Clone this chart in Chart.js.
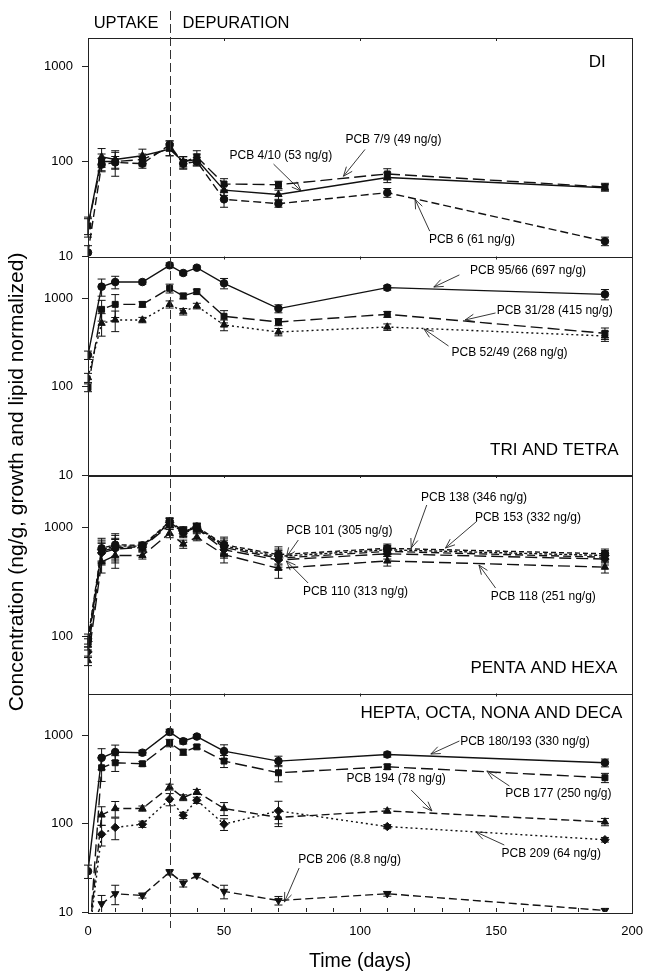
<!DOCTYPE html>
<html><head><meta charset="utf-8">
<script src="https://cdn.jsdelivr.net/npm/chart.js@4.4.0/dist/chart.umd.min.js"></script>
<style>html,body{margin:0;padding:0;background:#fff;}canvas{display:block;}</style>
</head><body>
<canvas id="c" width="655" height="971"></canvas>
<script>
// ---------- DATA ----------
const days = [0, 5, 10, 20, 30, 35, 40, 50, 70, 110, 190];
const yTickValues = [10, 100, 1000];
const xTickStep = 50;

// Panel 1: DI
const pcb4_10 = [21, 112, 105, 115, 135, 100, 105, 50, 45, 68, 53];
const pcb4_10Err = [5, 25, 20, 20, 20, 12, 15, 6, 5, 8, 4];
const pcb7_9 = [21, 100, 100, 105, 140, 98, 112, 58, 57, 74, 54];
const pcb7_9Err = [4, 20, 30, 15, 25, 15, 18, 8, 5, 10, 5];
const pcb6 = [11, 93, 98, 95, 150, 95, 100, 40, 36, 47, 14.5];
const pcb6Err = [2, 15, 15, 10, 15, 10, 10, 7, 3, 5, 1.5];

// Panel 2: TRI AND TETRA
const pcb95_66 = [229, 1365, 1540, 1540, 2385, 1950, 2240, 1490, 770, 1330, 1117];
const pcb95_66Err = [25, 300, 250, 80, 150, 100, 100, 200, 80, 80, 150];
const pcb31_28 = [98, 755, 860, 860, 1307, 1071, 1199, 630, 543, 663, 404];
const pcb31_28Err = [10, 200, 250, 60, 150, 80, 80, 100, 50, 50, 60];
const pcb52_49 = [127, 525, 572, 572, 861, 711, 824, 502, 418, 476, 377];
const pcb52_49Err = [15, 150, 150, 40, 80, 60, 60, 70, 40, 40, 50];

// Panel 3: PENTA AND HEXA
const pcb138 = [95, 640, 690, 680, 1120, 930, 1010, 690, 560, 640, 570];
const pcb138Err = [10, 150, 150, 50, 100, 80, 80, 120, 100, 60, 60];
const pcb153 = [90, 620, 670, 670, 1100, 910, 1000, 670, 540, 620, 550];
const pcb153Err = [10, 140, 200, 50, 100, 80, 80, 110, 90, 60, 60];
const pcb101 = [85, 600, 650, 660, 1090, 900, 990, 650, 520, 600, 530];
const pcb101Err = [10, 130, 140, 50, 100, 80, 80, 100, 90, 60, 60];
const pcb110 = [72, 580, 630, 650, 1050, 880, 970, 620, 500, 570, 510];
const pcb110Err = [8, 130, 140, 50, 100, 80, 80, 100, 90, 60, 60];
const pcb118 = [60, 480, 550, 550, 880, 700, 810, 560, 420, 490, 430];
const pcb118Err = [6, 100, 130, 40, 80, 60, 60, 90, 80, 50, 50];

// Panel 4: HEPTA, OCTA, NONA AND DECA
const pcb180_193 = [29, 560, 650, 640, 1100, 863, 975, 666, 514, 610, 492];
const pcb180_193Err = [5, 150, 130, 40, 80, 60, 50, 120, 70, 40, 50];
const pcb177 = [3, 432, 492, 479, 826, 649, 745, 514, 379, 443, 333];
const pcb177Err = [0, 130, 100, 30, 80, 50, 40, 80, 80, 30, 40];
const pcb194 = [4, 126, 149, 149, 261, 198, 230, 149, 118, 140, 105];
const pcb194Err = [0, 30, 30, 10, 20, 15, 15, 25, 25, 8, 10];
const pcb209 = [4, 76, 91, 99, 190, 125, 185, 99, 140, 93, 66];
const pcb209Err = [0, 20, 25, 8, 30, 10, 15, 15, 40, 5, 4];
const pcb206 = [5, 12.4, 16.1, 15.4, 28.3, 21.2, 25.9, 17.1, 13.5, 16.1, 10.4];
const pcb206Err = [0, 3, 4, 1, 2, 2, 1.5, 3, 1.5, 1, 0.5];

// ---------- CHART ----------
Chart.defaults.font.family = '"Liberation Sans", Arial, Helvetica, sans-serif';
Chart.defaults.color = '#000';

const INK = '#111';
const SOLID = [], LONG = [12, 5], MED = [8, 4], SHORT = [5, 3], DOT = [2, 3];

function series(label, values, errs, axis, dash, style, rot) {
  return {
    label, yAxisID: axis, errs,
    data: days.map((d, i) => ({x: d, y: values[i]})),
    borderColor: INK, backgroundColor: INK, borderWidth: 1.4, borderDash: dash,
    pointStyle: style, pointRotation: rot || 0,
    pointRadius: style === 'circle' ? 3.8 : 4.2, pointBorderWidth: 1,
    pointBorderColor: INK, pointBackgroundColor: INK, tension: 0, fill: false
  };
}

const datasets = [
  series('PCB 4/10', pcb4_10, pcb4_10Err, 'y1', SOLID, 'triangle'),
  series('PCB 7/9', pcb7_9, pcb7_9Err, 'y1', LONG, 'rect'),
  series('PCB 6', pcb6, pcb6Err, 'y1', MED, 'circle'),
  series('PCB 95/66', pcb95_66, pcb95_66Err, 'y2', SOLID, 'circle'),
  series('PCB 31/28', pcb31_28, pcb31_28Err, 'y2', LONG, 'rect'),
  series('PCB 52/49', pcb52_49, pcb52_49Err, 'y2', DOT, 'triangle'),
  series('PCB 138', pcb138, pcb138Err, 'y3', SHORT, 'circle'),
  series('PCB 153', pcb153, pcb153Err, 'y3', [3, 2], 'rectRot'),
  series('PCB 101', pcb101, pcb101Err, 'y3', MED, 'rect'),
  series('PCB 110', pcb110, pcb110Err, 'y3', LONG, 'rectRot'),
  series('PCB 118', pcb118, pcb118Err, 'y3', LONG, 'triangle'),
  series('PCB 180/193', pcb180_193, pcb180_193Err, 'y4', SOLID, 'circle'),
  series('PCB 177', pcb177, pcb177Err, 'y4', LONG, 'rect'),
  series('PCB 194', pcb194, pcb194Err, 'y4', MED, 'triangle'),
  series('PCB 209', pcb209, pcb209Err, 'y4', DOT, 'rectRot'),
  series('PCB 206', pcb206, pcb206Err, 'y4', MED, 'triangle', 180)
];

// annotations: [axis, text, textDay, textValue, fromDay, fromValue, toDay, toValue]
const labels = [
  ['y1', 'PCB 4/10 (53 ng/g)', 52, 116, 68.2, 94, 78.3, 49],
  ['y1', 'PCB 7/9 (49 ng/g)', 94.6, 171, 101.8, 134, 93.9, 70],
  ['y1', 'PCB 6 (61 ng/g)', 125.3, 14.9, 125.6, 18.5, 120.2, 40],
  ['y2', 'PCB 95/66 (697 ng/g)', 140.4, 2056, 136.5, 1855, 127.1, 1352],
  ['y2', 'PCB 31/28 (415 ng/g)', 150.2, 723, 149.8, 687, 138.6, 572],
  ['y2', 'PCB 52/49 (268 ng/g)', 133.6, 242, 132.5, 290, 123.5, 452],
  ['y3', 'PCB 101 (305 ng/g)', 72.9, 921, 77.3, 762, 72.9, 532],
  ['y3', 'PCB 110 (313 ng/g)', 79, 255, 80.9, 308, 72.9, 490],
  ['y3', 'PCB 138 (346 ng/g)', 122.4, 1848, 124.5, 1594, 118.8, 644],
  ['y3', 'PCB 153 (332 ng/g)', 142.2, 1211, 143, 1137, 131.4, 644],
  ['y3', 'PCB 118 (251 ng/g)', 148, 229, 149.8, 277, 143.7, 450],
  ['y4', 'PCB 180/193 (330 ng/g)', 136.8, 845, 136.5, 868, 126, 618],
  ['y4', 'PCB 177 (250 ng/g)', 153.4, 218, 154.9, 268, 146.6, 397],
  ['y4', 'PCB 194 (78 ng/g)', 95, 322, 118.8, 241, 126.4, 140],
  ['y4', 'PCB 209 (64 ng/g)', 152, 45.5, 153, 57.5, 142.6, 80.7],
  ['y4', 'PCB 206 (8.8 ng/g)', 77.3, 38.9, 77.6, 31.5, 72.2, 13]
];
// panel titles: [axis, text, rightDay, value]
const panelTitles = [
  ['y1', 'DI', 190.3, 1104],
  ['y2', 'TRI AND TETRA', 195, 19.2],
  ['y3', 'PENTA AND HEXA', 194.6, 51.3],
  ['y4', 'HEPTA, OCTA, NONA AND DECA', 196.4, 1803]
];
const phaseSplitDay = 30;

function yAxis(min, max, weight) {
  return {
    type: 'logarithmic', position: 'left', stack: 'panels', stackWeight: 1, weight,
    min, max,
    afterFit: s => { s.width = 88; },
    afterBuildTicks: s => { s.ticks = yTickValues.filter(v => v >= min && v <= max).map(v => ({value: v})); },
    grid: {drawOnChartArea: false, drawTicks: true, tickLength: 6, color: '#222'},
    border: {display: true, color: '#222', width: 1},
    ticks: {callback: v => String(v), font: {size: 13}, color: '#000', padding: 9, autoSkip: false}
  };
}

const decor = {
  id: 'decor',
  beforeDatasetsDraw(chart) {
    const ctx = chart.ctx, xs = chart.scales.x;
    ctx.save();
    ctx.strokeStyle = INK; ctx.lineWidth = 1;
    chart.data.datasets.forEach(ds => {
      const ys = chart.scales[ds.yAxisID];
      ds.errs.forEach((e, j) => {
        if (!e) return;
        const v = ds.data[j].y;
        const px = xs.getPixelForValue(ds.data[j].x);
        let t = ys.getPixelForValue(v + e);
        let b = ys.getPixelForValue(Math.max(v - e, v * 0.05));
        const tc = Math.max(t, ys.top), bc = Math.min(b, ys.bottom);
        if (bc <= tc) return;
        ctx.beginPath();
        ctx.moveTo(px, tc); ctx.lineTo(px, bc);
        if (t >= ys.top) { ctx.moveTo(px - 4, t); ctx.lineTo(px + 4, t); }
        if (b <= ys.bottom) { ctx.moveTo(px - 4, b); ctx.lineTo(px + 4, b); }
        ctx.stroke();
      });
    });
    ctx.restore();
  },
  afterDatasetsDraw(chart) {
    const ctx = chart.ctx, xs = chart.scales.x, area = chart.chartArea;
    ctx.save();
    // panel frames
    ctx.strokeStyle = '#222'; ctx.lineWidth = 1;
    ['y1', 'y2', 'y3', 'y4'].forEach(id => {
      const s = chart.scales[id];
      ctx.strokeRect(Math.round(area.left) + 0.5, Math.round(s.top) + 0.5, Math.round(area.right - area.left), Math.round(s.bottom - s.top));
      for (let d = xTickStep; d < 200; d += xTickStep) {
        const px = Math.round(xs.getPixelForValue(d)) + 0.5;
        ctx.beginPath(); ctx.moveTo(px, s.top); ctx.lineTo(px, s.top + 3); ctx.stroke();
      }
    });
    // bottom minor ticks (inward)
    for (let d = 0; d <= 200; d += 10) {
      const px = Math.round(xs.getPixelForValue(d)) + 0.5;
      ctx.beginPath(); ctx.moveTo(px, area.bottom); ctx.lineTo(px, area.bottom - 4); ctx.stroke();
    }
    // phase split dashed line
    const sx = Math.round(xs.getPixelForValue(phaseSplitDay)) + 0.5;
    ctx.setLineDash([9, 4]); ctx.strokeStyle = '#333';
    ctx.beginPath(); ctx.moveTo(sx, 11); ctx.lineTo(sx, area.bottom + 16); ctx.stroke();
    ctx.setLineDash([]);
    // phase labels
    ctx.fillStyle = '#000';
    ctx.font = '16.5px "Liberation Sans", Arial, sans-serif';
    ctx.textBaseline = 'middle';
    ctx.textAlign = 'right';
    ctx.fillText('UPTAKE', sx - 12, 23);
    ctx.textAlign = 'left';
    ctx.fillText('DEPURATION', sx + 12, 23);
    // panel titles
    ctx.font = '17px "Liberation Sans", Arial, sans-serif';
    ctx.textAlign = 'right';
    panelTitles.forEach(([ax, t, d, v]) => {
      ctx.fillText(t, xs.getPixelForValue(d), chart.scales[ax].getPixelForValue(v));
    });
    // annotations
    ctx.font = '12px "Liberation Sans", Arial, sans-serif';
    ctx.textAlign = 'left';
    ctx.strokeStyle = '#222'; ctx.lineWidth = 0.9;
    labels.forEach(([ax, t, td, tv, fd, fv, ed, ev]) => {
      const ys = chart.scales[ax];
      ctx.fillText(t, xs.getPixelForValue(td), ys.getPixelForValue(tv));
      const x0 = xs.getPixelForValue(fd), y0 = ys.getPixelForValue(fv);
      const x1 = xs.getPixelForValue(ed), y1 = ys.getPixelForValue(ev);
      const a = Math.atan2(y1 - y0, x1 - x0);
      ctx.beginPath();
      ctx.moveTo(x0, y0); ctx.lineTo(x1, y1);
      ctx.moveTo(x1 - 10 * Math.cos(a - 0.38), y1 - 10 * Math.sin(a - 0.38)); ctx.lineTo(x1, y1);
      ctx.lineTo(x1 - 10 * Math.cos(a + 0.38), y1 - 10 * Math.sin(a + 0.38));
      ctx.stroke();
    });
    // y title
    ctx.save();
    ctx.translate(17, (area.top + area.bottom) / 2 + 7);
    ctx.rotate(-Math.PI / 2);
    ctx.textAlign = 'center';
    ctx.font = '21px "Liberation Sans", Arial, sans-serif';
    ctx.fillText('Concentration (ng/g, growth and lipid normalized)', 0, 0);
    ctx.restore();
    ctx.restore();
  }
};

new Chart(document.getElementById('c'), {
  type: 'line',
  data: {datasets},
  options: {
    responsive: false, animation: false, devicePixelRatio: 1,
    layout: {padding: {top: 38, right: 13, left: 0, bottom: 0}},
    plugins: {legend: {display: false}, tooltip: {enabled: false}},
    scales: {
      x: {
        type: 'linear', min: 0, max: 200, position: 'bottom',
        afterFit: s => { s.height = 59; },
        grid: {display: false, drawTicks: false},
        border: {display: false},
        ticks: {stepSize: xTickStep, font: {size: 13}, color: '#000', padding: 12, maxRotation: 0, autoSkip: false},
        title: {display: true, text: 'Time (days)', font: {size: 19.5, lineHeight: 1}, color: '#000', padding: {top: 0, bottom: 0}}
      },
      y4: yAxis(10, 3000, 1),
      y3: yAxis(30, 3000, 2),
      y2: yAxis(10, 3000, 3),
      y1: yAxis(10, 2000, 4)
    }
  },
  plugins: [decor]
});
</script>
</body></html>
